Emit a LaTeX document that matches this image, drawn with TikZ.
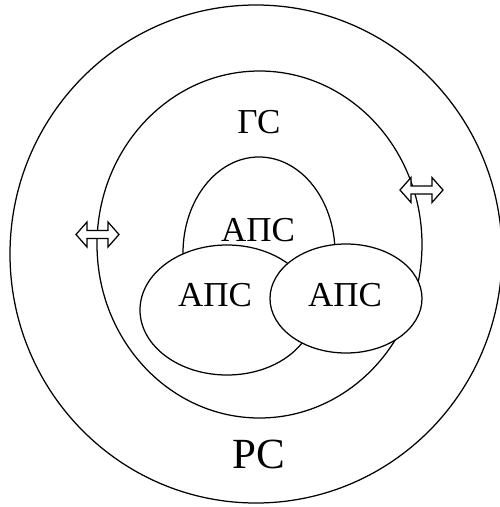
\documentclass[tikz,border=0pt]{standalone}
\usepackage{fontspec}
\setmainfont{Liberation Serif}
\usetikzlibrary{shapes.geometric}
\tikzset{
  ln/.style={draw=black, line width=1.25pt},
  apsbox/.style={ln, ellipse, fill=white, inner sep=0pt},
  lbl/.style={font=\fontsize{35}{35}\selectfont, inner sep=0pt},
  dblarrow/.pic={\draw[ln, fill=white, line join=miter] (-21.5,0) -- (-10.5,-12.5) -- (-10.5,-4) -- (10.5,-4) -- (10.5,-12.5) -- (21.5,0) -- (10.5,12.5) -- (10.5,4) -- (-10.5,4) -- (-10.5,12.5) -- cycle;}
}
\begin{document}
\begin{tikzpicture}[x=1pt,y=-1pt]
\useasboundingbox (0,0) rectangle (499,507);
\node[ln, ellipse, minimum width=492, minimum height=498, inner sep=0pt] (rs) at (256,254) {};
\node[ln, ellipse, minimum width=325, minimum height=347, inner sep=0pt] (gs) at (259.5,244.5) {};
\pic at (97.5,234.5) {dblarrow};
\pic at (421.5,190) {dblarrow};
\node[apsbox, minimum width=152, minimum height=192] (a1) at (259,253) {};
\node[apsbox, minimum width=174, minimum height=130] (a2) at (227,310) {};
\node[apsbox, minimum width=152, minimum height=109] (a3) at (346,298.5) {};
\node[lbl] (tgs) at (259,122) {ГС};
\node[lbl] (t1) at (258,230) {АПС};
\node[lbl] (t2) at (215,295) {АПС};
\node[lbl] (t3) at (345,295) {АПС};
\node[lbl, font=\fontsize{43}{43}\selectfont] (trs) at (259,454) {РС};
\end{tikzpicture}
\end{document}
